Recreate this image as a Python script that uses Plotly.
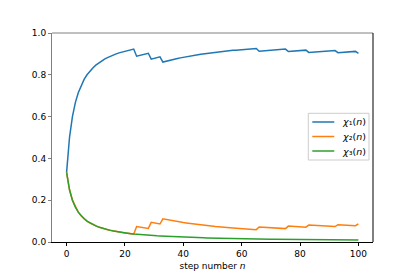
import plotly.graph_objects as go

# step numbers
n = list(range(101))

chi1 = [0.333,0.500,0.600,0.667,0.714,0.750,0.778,0.800,0.818,0.833,0.846,0.857,0.867,0.875,0.882,0.889,0.895,0.900,0.905,0.909,
        0.913,0.917,0.920,0.923,0.889,0.893,0.897,0.900,0.903,0.875,0.879,0.882,0.886,0.861,0.865,0.868,0.872,0.875,0.878,0.881,
        0.884,0.886,0.889,0.891,0.894,0.896,0.898,0.900,0.902,0.904,0.906,0.907,0.909,0.911,0.912,0.914,0.915,0.917,0.918,0.919,
        0.921,0.922,0.923,0.924,0.925,0.926,0.913,0.914,0.915,0.917,0.918,0.919,0.920,0.921,0.922,0.923,0.911,0.912,0.914,0.915,
        0.916,0.917,0.918,0.907,0.908,0.909,0.910,0.911,0.912,0.913,0.914,0.915,0.916,0.906,0.907,0.908,0.909,0.910,0.911,0.912,
        0.903]
chi2 = [0.333,0.250,0.200,0.167,0.143,0.125,0.111,0.100,0.091,0.083,0.077,0.071,0.067,0.062,0.059,0.056,0.053,0.050,0.048,0.045,
        0.043,0.042,0.040,0.038,0.074,0.071,0.069,0.067,0.065,0.094,0.091,0.088,0.086,0.111,0.108,0.105,0.103,0.100,0.098,0.095,
        0.093,0.091,0.089,0.087,0.085,0.083,0.082,0.080,0.078,0.077,0.075,0.074,0.073,0.071,0.070,0.069,0.068,0.067,0.066,0.065,
        0.063,0.062,0.062,0.061,0.060,0.059,0.072,0.071,0.070,0.069,0.068,0.068,0.067,0.066,0.065,0.064,0.076,0.075,0.074,0.073,
        0.072,0.071,0.071,0.081,0.080,0.080,0.079,0.078,0.077,0.076,0.075,0.074,0.074,0.083,0.082,0.082,0.081,0.080,0.079,0.078,
        0.087]
chi3 = [0.3333,0.25,0.2,0.1667,0.1429,0.125,0.1111,0.1,0.0909,0.0833,0.0769,0.0714,0.0667,0.0625,0.0588,0.0556,0.0526,0.05,0.0476,0.0455,
        0.0435,0.0417,0.04,0.0385,0.037,0.0357,0.0345,0.0333,0.0323,0.0312,0.0303,0.0294,0.0286,0.0278,0.027,0.0263,0.0256,0.025,0.0244,0.0238,
        0.0233,0.0227,0.0222,0.0217,0.0213,0.0208,0.0204,0.02,0.0196,0.0192,0.0189,0.0185,0.0182,0.0179,0.0175,0.0172,0.0169,0.0167,0.0164,0.0161,
        0.0159,0.0156,0.0154,0.0152,0.0149,0.0147,0.0145,0.0143,0.0141,0.0139,0.0137,0.0135,0.0133,0.0132,0.013,0.0128,0.0127,0.0125,0.0123,0.0122,
        0.012,0.0119,0.0118,0.0116,0.0115,0.0114,0.0112,0.0111,0.011,0.0109,0.0108,0.0106,0.0105,0.0104,0.0103,0.0102,0.0101,0.01,0.0099,0.0098,
        0.0097]

names = ["<i>χ</i>₁(<i>n</i>)", "<i>χ</i>₂(<i>n</i>)", "<i>χ</i>₃(<i>n</i>)"]
colors = ["#1f77b4", "#ff7f0e", "#2ca02c"]
x_ticks = [0, 20, 40, 60, 80, 100]
y_ticks = [0.0, 0.2, 0.4, 0.6, 0.8, 1.0]

FONT = "DejaVu Sans"
fig = go.Figure()
for name, ys, col in zip(names, [chi1, chi2, chi3], colors):
    fig.add_trace(go.Scatter(x=n, y=ys, mode="lines", name=name, showlegend=False,
                             line=dict(color=col, width=1.5)))

# legend box drawn in plot-area (paper) coordinates, matplotlib "center right" style
shapes = [
    dict(type="line", xref="paper", yref="paper", x0=0, x1=1, y0=1, y1=1,
         line=dict(color="#808080", width=1)),
    dict(type="line", xref="paper", yref="paper", x0=1, x1=1, y0=0, y1=1,
         line=dict(color="black", width=1)),
    dict(type="rect", xref="paper", yref="paper", x0=0.7984, x1=0.9875,
         y0=0.3923, y1=0.6158, line=dict(color="#cccccc", width=1),
         fillcolor="rgba(255,255,255,0.8)", layer="above"),
]
annotations = []
row_y = [0.5742, 0.5048, 0.4354]
for name, col, yy in zip(names, colors, row_y):
    shapes.append(dict(type="line", xref="paper", yref="paper", x0=0.8109, x1=0.8794,
                       y0=yy, y1=yy, line=dict(color=col, width=1.5), layer="above"))
    annotations.append(dict(xref="paper", yref="paper", x=0.8972, y=yy, text=name,
                            showarrow=False, xanchor="left", yanchor="middle",
                            font=dict(family=FONT, size=9.5, color="black")))

# page body has an 8px default margin, so the figure is 8px smaller on each side
fig.update_layout(
    width=407, height=269,
    margin=dict(l=44, r=42, t=25, b=35),
    plot_bgcolor="white", paper_bgcolor="white",
    font=dict(family=FONT, size=9, color="#000000"),
    showlegend=False,
    xaxis=dict(range=[-5, 105], tickvals=x_ticks, ticks="outside", ticklen=3,
               tickwidth=1, tickcolor="black", showgrid=False, zeroline=False,
               showline=True, linecolor="black", linewidth=1, automargin=False,
               title=dict(text="step number <i>n</i>", standoff=4,
                          font=dict(family=FONT, size=9))),
    yaxis=dict(range=[0, 1], tickvals=y_ticks, tickformat=".1f", ticks="outside",
               ticklen=3, tickwidth=1, tickcolor="#808080", showgrid=False,
               zeroline=False, showline=True, linecolor="#808080", linewidth=1,
               automargin=False),
    shapes=shapes,
    annotations=annotations,
)
fig.write_html("out.html")
